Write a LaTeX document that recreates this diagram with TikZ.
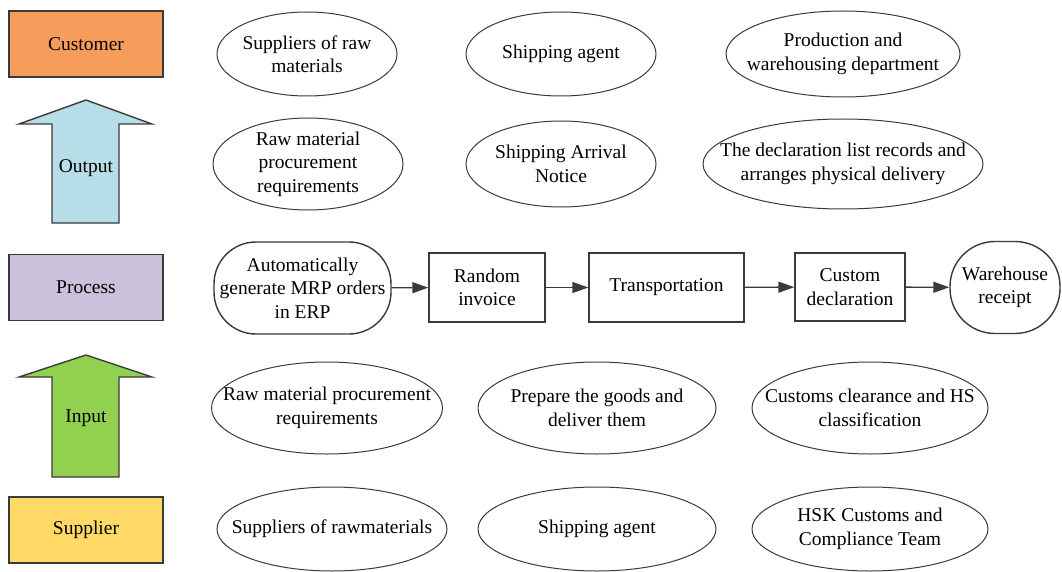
\documentclass[tikz,border=0pt]{standalone}
\usepackage{fontspec}
\setmainfont{Liberation Serif}
\newfontfamily\tnr{Liberation Serif}
\usetikzlibrary{shapes.geometric,arrows.meta}
\definecolor{edge}{HTML}{3A3A3A}
\definecolor{custC}{HTML}{F79D5B}
\definecolor{outC}{HTML}{B7DDE8}
\definecolor{procC}{HTML}{CCC1DA}
\definecolor{inC}{HTML}{92D050}
\definecolor{supC}{HTML}{FFD966}
\begin{document}
\begin{tikzpicture}[x=1pt,y=-1pt,
  txt/.style={align=center,font=\tnr\fontsize{19.5}{23.5}\selectfont,inner sep=0pt},
  lbox/.style={draw=edge,line width=1.4pt,minimum width=154pt,minimum height=66pt,inner sep=0pt,txt},
  blockarrow/.style={draw=edge,line width=1.4pt,line join=miter},
  ell/.style={draw=edge,ellipse,line width=1pt,inner sep=0pt},
  pbox/.style={draw=edge,line width=1.4pt,inner sep=0pt,txt},
  conn/.style={draw=edge,line width=1.4pt,-{Triangle[length=16pt,width=11pt]}}]
\useasboundingbox (0,0) rectangle (1062,572);

% left column
\node[lbox,fill=custC] (cust) at (86,44) {Customer};
\draw[blockarrow,fill=outC] (86,100) -- (152,124) -- (119,124) -- (119,223) -- (52,223) -- (52,124) -- (19,124) -- cycle;
\node[txt] (outt) at (86,168) {Output};
\node[lbox,fill=procC] (proc) at (86,287.5) {Process};
\draw[blockarrow,fill=inC] (86,355) -- (152,377) -- (119,377) -- (119,477) -- (52,477) -- (52,377) -- (19,377) -- cycle;
\node[txt] (int) at (86,418) {Input};
\node[lbox,fill=supC] (sup) at (86,530) {Supplier};

% row 1 (customer)
\node[ell,minimum width=180pt,minimum height=84pt] (a1) at (307,54) {};
\node[txt] (a1t) at (a1) {Suppliers of raw\\materials};
\node[ell,minimum width=190pt,minimum height=84pt] (a2) at (561,54) {};
\node[txt] (a2t) at (a2) {Shipping agent};
\node[ell,minimum width=234pt,minimum height=86pt] (a3) at (843,54) {};
\node[txt] (a3t) at (a3) {Production and\\warehousing department};

% row 2 (output)
\node[ell,minimum width=190pt,minimum height=92pt] (b1) at (308,164) {};
\node[txt] (b1t) at (b1) {Raw material\\procurement\\requirements};
\node[ell,minimum width=190pt,minimum height=86pt] (b2) at (561,164) {};
\node[txt] (b2t) at (b2) {Shipping Arrival\\Notice};
\node[ell,minimum width=280pt,minimum height=90pt] (b3) at (843,164) {};
\node[txt] (b3t) at (b3) {The declaration list records and\\arranges physical delivery};

% process row
\node[pbox,rounded corners=42pt,minimum width=177pt,minimum height=92pt] (p1) at (302.5,288) {Automatically\\generate MRP orders\\in ERP};
\node[pbox,minimum width=116pt,minimum height=69pt] (p2) at (487,287.5) {Random\\invoice};
\node[pbox,minimum width=155pt,minimum height=69pt] (p3) at (666.5,287.5) {Transportation};
\node[pbox,minimum width=110pt,minimum height=68pt] (p4) at (850,287) {Custom\\declaration};
\node[pbox,rounded corners=45pt,minimum width=110pt,minimum height=92pt] (p5) at (1005,287.5) {Warehouse\\receipt};
\draw[conn] (p1) -- (p2);
\draw[conn] (p2) -- (p3);
\draw[conn] (p3) -- (p4);
\draw[conn] (p4) -- (p5);

% row 4 (input)
\node[ell,minimum width=231pt,minimum height=92pt] (c1) at (327,408) {};
\node[txt] (c1t) at (c1) {Raw material procurement\\requirements};
\node[ell,minimum width=238pt,minimum height=92pt] (c2) at (597,408) {};
\node[txt] (c2t) at (c2) {Prepare the goods and\\deliver them};
\node[ell,minimum width=236pt,minimum height=92pt] (c3) at (870,408) {};
\node[txt] (c3t) at (c3) {Customs clearance and HS\\classification};

% row 5 (supplier)
\node[ell,minimum width=230pt,minimum height=84pt] (d1) at (332,529) {};
\node[txt] (d1t) at (d1) {Suppliers of rawmaterials};
\node[ell,minimum width=238pt,minimum height=84pt] (d2) at (597,529) {};
\node[txt] (d2t) at (d2) {Shipping agent};
\node[ell,minimum width=236pt,minimum height=84pt] (d3) at (870,529) {};
\node[txt] (d3t) at (d3) {HSK Customs and\\Compliance Team};
\end{tikzpicture}
\end{document}
